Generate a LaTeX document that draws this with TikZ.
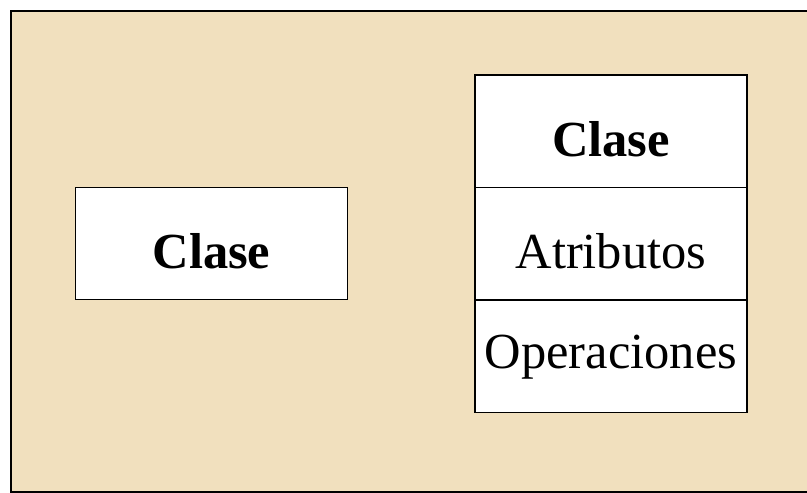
\documentclass[tikz,border=0pt]{standalone}
\usepackage{fontspec}
\setmainfont{Liberation Serif}
\usetikzlibrary{positioning}
\definecolor{parchment}{RGB}{241,224,190}
\begin{document}
\begin{tikzpicture}
            [x=1pt, y=-1pt,
             umlbox/.style = {draw, fill=white, line width=1.4pt, inner sep=0pt, outer sep=0pt,
                              minimum width=272pt, minimum height=112.4pt,
                              text height=50pt, text depth=0pt,
                              font=\fontsize{50.5}{60}\selectfont}]
            \clip (0,0) rectangle (807,493);
            \draw[line width=2pt, fill=parchment] (11,11) rectangle (812,491.5);
            \node[umlbox] (simple) at (211.5,243.5) {\bfseries Clase};
            \node[umlbox] (nombre) at (611,131.2) {\bfseries Clase};
            \node[umlbox] (atributos) [below=0pt of nombre] {Atributos};
            \node[umlbox, text height=25pt] (operaciones) [below=0pt of atributos] {Operaciones};
        \end{tikzpicture}
\end{document}
